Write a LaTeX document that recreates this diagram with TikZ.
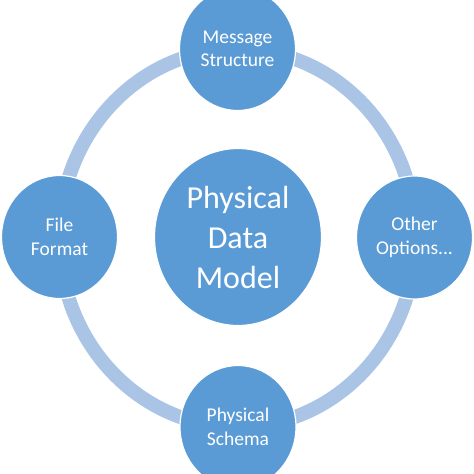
\documentclass[tikz,border=0pt]{standalone}
\usepackage{fontspec}
\setmainfont{Carlito}
\usetikzlibrary{shapes.geometric}
\definecolor{circblue}{HTML}{5B9BD5}
\definecolor{ringblue}{HTML}{AAC4E6}
\tikzset{
  sat/.style={ellipse, fill=circblue, draw=white, line width=1.2pt, inner sep=0pt,
    minimum width=116pt, minimum height=123pt, text=white, align=center,
    font=\fontsize{19.5pt}{23.5pt}\selectfont},
  hub/.style={ellipse, fill=circblue, draw=white, line width=1.2pt, inner sep=0pt,
    minimum width=167pt, minimum height=177pt, text=white, align=center,
    font=\fontsize{32pt}{40pt}\selectfont},
  ring/.style={draw=ringblue, line width=14pt}
}
\begin{document}
\begin{tikzpicture}[x=1pt,y=-1pt]
\useasboundingbox (0,0) rectangle (474,474);
\fill[white] (0,0) rectangle (474,474);
\coordinate (rc) at (237.5,238);
\draw[ring] (rc) ellipse [x radius=178, y radius=189];
\node[hub] (pdm) at (238,237) {Physical\\Data\\Model};
\node[sat] (msg) at (237.5,49) {Message\\Structure};
\node[sat] (file) at (59.5,237) {File\\Format};
\node[sat] (other) at (414.5,237.5) {Other\\Options...};
\node[sat] (schema) at (238,427) {Physical\\Schema};
\end{tikzpicture}
\end{document}
